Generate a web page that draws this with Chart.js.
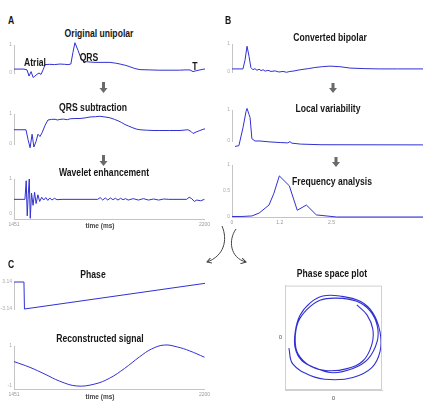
<!DOCTYPE html>
<html>
<head>
<meta charset="utf-8">
<script src="https://cdn.jsdelivr.net/npm/chart.js@4.4.1/dist/chart.umd.min.js"></script>
<style>
  body { margin: 0; background: #fff; }
  #fig { position: relative; width: 423px; height: 401px; overflow: hidden; font-family: "Liberation Sans", Arial, sans-serif; }
  canvas { position: absolute; }
  .lbl { position: absolute; font-weight: bold; font-size: 10px; color: #161616; white-space: nowrap; transform: translate(-50%, -50%) scaleX(0.86); }
  .axt { position: absolute; font-weight: bold; font-size: 6.5px; color: #444; white-space: nowrap; transform: translate(-50%, -50%); }
  svg { position: absolute; left: 0; top: 0; }
</style>
</head>
<body>
<div id="fig">
  <canvas id="uni" width="205" height="52" style="left:0;top:39px"></canvas>
  <canvas id="qrs" width="205" height="52" style="left:0;top:109px"></canvas>
  <canvas id="wav" width="213" height="54" style="left:0;top:174px"></canvas>
  <canvas id="bip" width="205" height="46" style="left:218px;top:39px"></canvas>
  <canvas id="lvar" width="205" height="54" style="left:218px;top:105px"></canvas>
  <canvas id="freq" width="205" height="66" style="left:218px;top:160px"></canvas>
  <canvas id="phase" width="205" height="45" style="left:0;top:277px"></canvas>
  <canvas id="recon" width="213" height="57" style="left:0;top:341px"></canvas>
  <canvas id="pspace" width="107" height="124" style="left:277px;top:279px"></canvas>

  <div class="lbl" style="left:11px;top:20px">A</div>
  <div class="lbl" style="left:99px;top:33px">Original unipolar</div>
  <div class="lbl" style="left:35px;top:62px">Atrial</div>
  <div class="lbl" style="left:89px;top:57px">QRS</div>
  <div class="lbl" style="left:195px;top:66px">T</div>
  <div class="lbl" style="left:93px;top:107px">QRS subtraction</div>
  <div class="lbl" style="left:104px;top:172px">Wavelet enhancement</div>
  <div class="axt" style="left:100px;top:225px">time (ms)</div>

  <div class="lbl" style="left:228px;top:20px">B</div>
  <div class="lbl" style="left:330px;top:37px">Converted bipolar</div>
  <div class="lbl" style="left:328px;top:108px">Local variability</div>
  <div class="lbl" style="left:332px;top:181px">Frequency analysis</div>

  <div class="lbl" style="left:11px;top:264px">C</div>
  <div class="lbl" style="left:93px;top:274px">Phase</div>
  <div class="lbl" style="left:100px;top:338px">Reconstructed signal</div>
  <div class="axt" style="left:100px;top:396px">time (ms)</div>
  <div class="lbl" style="left:332px;top:273px">Phase space plot</div>

  <svg width="423" height="401">
    <defs>
      <marker id="head" markerWidth="6" markerHeight="6" refX="5" refY="3" orient="auto" markerUnits="userSpaceOnUse">
        <path d="M0,0 L5,3 L0,6" fill="none" stroke="#444" stroke-width="1"/>
      </marker>
    </defs>
    <g fill="#6a6a6a">
      <polygon points="102,82 105,82 105,88 107.5,88 103.5,93 99.5,88 102,88"/>
      <polygon points="102,155 105,155 105,161 107.5,161 103.5,166 99.5,161 102,161"/>
      <polygon points="331.5,83 334.5,83 334.5,88 337,88 333,93 329,88 331.5,88"/>
      <polygon points="334.5,157 337.5,157 337.5,162 340,162 336,167 332,162 334.5,162"/>
    </g>
    <path d="M222,226 C228,240 224,256 207,262" fill="none" stroke="#444" stroke-width="1" marker-end="url(#head)"/>
    <path d="M236,229 C228,240 230,258 246,262" fill="none" stroke="#444" stroke-width="1" marker-end="url(#head)"/>
  </svg>
</div>

<script>
// A: original unipolar (time ms, value)
const unipolarT = [1451, 1490, 1502, 1510, 1518, 1526, 1533, 1541, 1549, 1557, 1565, 1573, 1592, 1610, 1631, 1650, 1663, 1674, 1682, 1690, 1702, 1714, 1729, 1750, 1769, 1800, 1827, 1850, 1867, 1890, 1906, 1925, 1945, 1984, 2020, 2063, 2100, 2122, 2141, 2153, 2165, 2180, 2196, 2200];
const unipolarV = [0.14, 0.14, 0.11, -0.11, 0.05, -0.16, -0.11, -0.05, 0.0, -0.05, 0.11, 0.30, 0.31, 0.30, 0.32, 0.31, 0.30, 0.32, 0.73, 1.08, 0.81, 0.51, 0.41, 0.39, 0.38, 0.38, 0.38, 0.35, 0.32, 0.27, 0.22, 0.16, 0.12, 0.11, 0.10, 0.10, 0.10, 0.11, 0.11, 0.05, 0.08, 0.11, 0.14, 0.14];

// A: after QRS subtraction
const subtractT = [1451, 1498, 1506, 1514, 1522, 1529, 1537, 1545, 1553, 1561, 1573, 1584, 1598, 1612, 1622, 1631, 1645, 1660, 1671, 1690, 1710, 1730, 1749, 1770, 1788, 1808, 1827, 1845, 1859, 1872, 1886, 1900, 1914, 1930, 1945, 1970, 2000, 2023, 2060, 2102, 2133, 2145, 2153, 2165, 2180, 2196, 2200];
const subtractV = [0.475, 0.475, 0.15, -0.125, 0.325, -0.10, 0.075, 0.325, 0.25, 0.375, 0.625, 0.80, 0.82, 0.825, 0.80, 0.82, 0.83, 0.81, 0.84, 0.85, 0.85, 0.87, 0.90, 0.91, 0.925, 0.90, 0.875, 0.82, 0.775, 0.72, 0.65, 0.60, 0.55, 0.50, 0.475, 0.46, 0.45, 0.45, 0.45, 0.45, 0.475, 0.42, 0.35, 0.40, 0.45, 0.50, 0.50];

// A: wavelet enhanced
const waveletT = [1451, 1494, 1499, 1503, 1507, 1511, 1515, 1520, 1526, 1532, 1538, 1545, 1552, 1560, 1568, 1576, 1584, 1592, 1600, 1610, 1620, 1640, 1780, 1790, 1800, 1810, 1820, 1830, 1840, 1850, 1860, 1870, 1880, 1890, 1900, 1920, 1940, 1960, 1980, 2000, 2020, 2040, 2060, 2130, 2140, 2150, 2160, 2170, 2185, 2200];
const waveletV = [0.42, 0.42, 0.95, -0.05, 0.55, 1.0, -0.12, 0.60, 0.25, 0.62, 0.30, 0.55, 0.36, 0.48, 0.40, 0.47, 0.39, 0.46, 0.40, 0.45, 0.41, 0.42, 0.42, 0.47, 0.40, 0.46, 0.40, 0.46, 0.41, 0.45, 0.40, 0.45, 0.41, 0.44, 0.40, 0.44, 0.40, 0.44, 0.40, 0.43, 0.40, 0.43, 0.42, 0.42, 0.48, 0.44, 0.36, 0.40, 0.38, 0.42];

// B: converted bipolar
const bipolarT = [1451, 1494, 1502, 1510, 1518, 1525, 1533, 1541, 1549, 1557, 1565, 1573, 1581, 1592, 1604, 1620, 1635, 1651, 1665, 1678, 1690, 1718, 1750, 1776, 1805, 1835, 1874, 1914, 1972, 2031, 2100, 2200];
const bipolarV = [0.11, 0.11, 0.42, 0.92, 0.55, 0.16, 0.08, 0.12, 0.06, 0.10, 0.05, 0.08, 0.03, 0.06, 0.02, 0.04, 0.00, 0.02, -0.01, 0.02, 0.03, 0.08, 0.12, 0.16, 0.19, 0.21, 0.19, 0.14, 0.12, 0.11, 0.11, 0.11];

// B: local variability
const variabT = [1463, 1478, 1494, 1506, 1510, 1518, 1522, 1529, 1541, 1561, 1600, 1640, 1670, 1678, 1686, 1720, 1800, 2200];
const variabV = [-0.175, -0.15, 0.425, 0.95, 1.05, 0.85, 0.75, 0.075, 0.0, 0.0, -0.03, -0.05, -0.06, -0.02, -0.07, -0.10, -0.12, -0.125];

// B: frequency spectrum
const freqF = [0, 0.25, 0.5, 0.68, 0.93, 1.05, 1.19, 1.44, 1.64, 1.87, 2.12, 2.63, 4.8];
const freqP = [0.01, 0.01, 0.02, 0.075, 0.23, 0.45, 0.79, 0.60, 0.13, 0.23, 0.04, 0.0, 0.0];
const freqTicks = [0, 1.2, 2.5];

// C: phase and reconstructed signal
const phaseT = [1451, 1490, 1492, 2200];
const phaseV = [3.14, 3.14, -3.14, 2.83];
const reconT = [1451, 1514, 1573, 1631, 1698, 1769, 1827, 1886, 1945, 1992, 2043, 2094, 2141, 2200];
const reconV = [0.22, -0.07, -0.41, -0.76, -1.0, -0.90, -0.61, -0.12, 0.46, 0.85, 1.05, 0.95, 0.76, 0.44];
const timeTicks = [1451, 2200];

// C: phase space trajectory
const spaceX = [-0.92, -0.84, -0.48, -0.07, 0.40, 0.79, 0.96, 0.96, 0.81, 0.55, 0.13, -0.22, -0.48, -0.69, -0.79, -0.79, -0.65, -0.34, -0.01, 0.40, 0.71, 0.90, 0.90, 0.75, 0.48, 0.07, -0.28, -0.55, -0.73, -0.79, -0.73, -0.48, -0.13, 0.28, 0.61, 0.79, 0.81, 0.69, 0.48];
const spaceY = [-0.20, -0.50, -0.72, -0.80, -0.76, -0.57, -0.26, 0.11, 0.48, 0.70, 0.80, 0.80, 0.67, 0.43, 0.11, -0.20, -0.44, -0.59, -0.67, -0.59, -0.41, -0.07, 0.24, 0.52, 0.70, 0.76, 0.72, 0.54, 0.30, -0.04, -0.31, -0.54, -0.63, -0.59, -0.44, -0.13, 0.17, 0.44, 0.63];

const LINE = "rgb(48,48,212)";
const AXIS = "#c4c4c4";
const TICK_FONT = { family: "Liberation Sans", size: 5 };

const fixedTicks = (values) => (scale) => { scale.ticks = values.map(v => ({ value: v })); };

const drawTrace = (id, xs, ys, cfg) => {
    const points = xs.map((x, i) => ({ x: x, y: ys[i] }));
    return new Chart(document.getElementById(id), {
        type: "line",
        data: {
            datasets: [{
                data: points,
                borderColor: LINE,
                borderWidth: 1,
                pointRadius: 0,
                tension: cfg.tension || 0,
                clip: false
            }]
        },
        options: {
            responsive: false,
            animation: false,
            events: [],
            layout: { padding: { top: cfg.padTop, bottom: cfg.padBottom || 0, left: 0, right: cfg.padRight || 0 } },
            plugins: { legend: { display: false }, tooltip: { enabled: false } },
            scales: {
                x: {
                    type: "linear",
                    min: cfg.xMin,
                    max: cfg.xMax,
                    display: !!cfg.xTicks,
                    grid: { display: false, drawTicks: false },
                    border: { color: AXIS },
                    afterBuildTicks: fixedTicks(cfg.xTicks || []),
                    afterFit: (s) => { s.height = 9 },
                    ticks: { font: TICK_FONT, color: "#999", padding: 3, maxRotation: 0, autoSkip: false, callback: v => String(v) }
                },
                y: {
                    min: cfg.yMin,
                    max: cfg.yMax,
                    grid: { display: false, drawTicks: false },
                    border: { color: AXIS },
                    afterBuildTicks: fixedTicks(cfg.yTicks),
                    afterFit: (s) => { s.width = 14 },
                    ticks: { font: TICK_FONT, color: "#aaa", padding: 2, autoSkip: false, callback: v => String(v) }
                }
            }
        }
    });
}

drawTrace("uni", unipolarT, unipolarV, { xMin: 1451, xMax: 2200, yMin: 0, yMax: 1, yTicks: [0, 1], padTop: 6, padBottom: 9 });
drawTrace("qrs", subtractT, subtractV, { xMin: 1451, xMax: 2200, yMin: 0, yMax: 1, yTicks: [0, 1], padTop: 4, padBottom: 8 });
drawTrace("wav", waveletT, waveletV, { xMin: 1451, xMax: 2200, yMin: -0.14, yMax: 1, yTicks: [0, 1], padTop: 4, padRight: 8, xTicks: timeTicks });
drawTrace("bip", bipolarT, bipolarV, { xMin: 1451, xMax: 2200, yMin: 0, yMax: 1, yTicks: [0, 1], padTop: 4, padBottom: 4 });
drawTrace("lvar", variabT, variabV, { xMin: 1451, xMax: 2200, yMin: 0, yMax: 1, yTicks: [0, 1], padTop: 5, padBottom: 9 });
drawTrace("freq", freqF, freqP, { xMin: 0, xMax: 4.8, yMin: 0, yMax: 1, yTicks: [0, 0.5, 1], padTop: 4, xTicks: freqTicks });
drawTrace("phase", phaseT, phaseV, { xMin: 1451, xMax: 2200, yMin: -3.14, yMax: 3.14, yTicks: [-3.14, 3.14], padTop: 4, padBottom: 4 });
drawTrace("recon", reconT, reconV, { xMin: 1451, xMax: 2200, yMin: -1.15, yMax: 1, yTicks: [-1, 1], padTop: 4, padRight: 8, tension: 0.4, xTicks: timeTicks });

// box round the phase space plot
const boxPlugin = {
    id: "box",
    afterDraw(chart) {
        const a = chart.chartArea;
        const ctx = chart.ctx;
        ctx.save();
        ctx.strokeStyle = "#d0d0d0";
        ctx.lineWidth = 1;
        ctx.strokeRect(a.left + 0.5, a.top + 0.5, a.right - a.left - 1, a.bottom - a.top - 1);
        ctx.restore();
    }
};

new Chart(document.getElementById("pspace"), {
    type: "scatter",
    data: {
        datasets: [{
            data: spaceX.map((x, i) => ({ x: x, y: spaceY[i] })),
            showLine: true,
            borderColor: LINE,
            borderWidth: 1.1,
            pointRadius: 0,
            tension: 0.4
        }]
    },
    options: {
        responsive: false,
        animation: false,
        events: [],
        layout: { padding: { top: 3, right: 2, left: 0, bottom: 0 } },
        plugins: { legend: { display: false }, tooltip: { enabled: false } },
        scales: {
            x: {
                min: -1, max: 1,
                grid: { display: false, drawTicks: false },
                border: { color: "#d0d0d0" },
                afterBuildTicks: fixedTicks([0]),
                afterFit: (s) => { s.height = 13 },
                ticks: { font: { family: "Liberation Sans", size: 6 }, color: "#555", padding: 5 }
            },
            y: {
                min: -1, max: 1,
                grid: { display: false, drawTicks: false },
                border: { color: "#d0d0d0" },
                afterBuildTicks: fixedTicks([0]),
                afterFit: (s) => { s.width = 8 },
                ticks: { font: { family: "Liberation Sans", size: 6 }, color: "#555", padding: 3 }
            }
        }
    },
    plugins: [boxPlugin]
});
</script>
</body>
</html>
